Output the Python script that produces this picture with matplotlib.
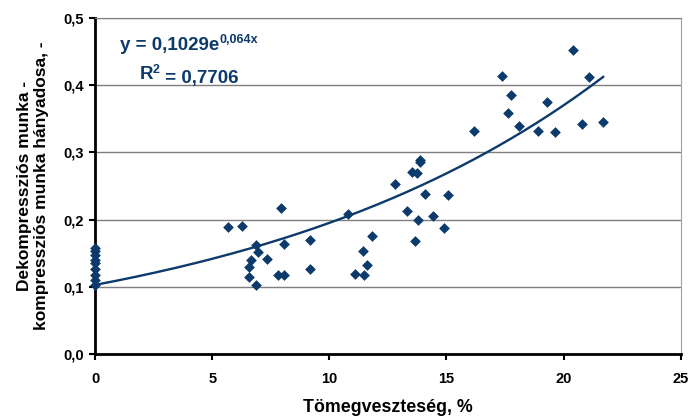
import matplotlib
matplotlib.use("Agg")
import matplotlib.pyplot as plt
from matplotlib.ticker import FuncFormatter
import numpy as np

# measured points: weight loss (%) vs. decompression/compression work ratio
mass_loss = [0, 0, 0, 0, 0, 0, 0, 0, 0,
             5.69, 6.28, 7.93, 6.85, 6.97, 6.66, 6.58, 6.57, 6.85, 7.32,
             7.79, 8.08, 8.08, 9.16, 9.16, 10.78, 11.09, 11.48, 11.45, 11.62,
             11.80, 13.85, 13.85, 13.52, 13.75, 12.80, 14.08, 15.07, 13.32, 13.79,
             14.43, 14.90, 13.65, 16.18, 17.39, 17.77, 17.63, 18.10, 19.27, 18.89,
             19.62, 20.38, 21.09, 20.80, 21.69]
work_ratio = [0.158, 0.153, 0.147, 0.140, 0.135, 0.127, 0.118, 0.110, 0.103,
              0.189, 0.191, 0.218, 0.162, 0.152, 0.140, 0.130, 0.114, 0.102, 0.141,
              0.118, 0.118, 0.163, 0.169, 0.126, 0.208, 0.119, 0.118, 0.153, 0.132,
              0.176, 0.289, 0.285, 0.271, 0.269, 0.253, 0.238, 0.236, 0.213, 0.199,
              0.205, 0.188, 0.168, 0.332, 0.414, 0.386, 0.359, 0.339, 0.375, 0.332,
              0.331, 0.452, 0.412, 0.342, 0.345]

# exponential trendline as printed on the chart
fit_a = 0.1029
fit_b = 0.064
fit_r2 = 0.7706

navy = "#0b3a6b"
plt.rcParams["font.family"] = ["Liberation Sans", "DejaVu Sans"]

fig = plt.figure(figsize=(6.89, 4.18), dpi=100)
ax = fig.add_axes([0.138, 0.153, 0.850, 0.804])

xs = np.linspace(0, max(mass_loss), 200)
ax.plot(xs, fit_a * np.exp(fit_b * xs), color=navy, lw=1.7, zorder=3, clip_on=False)
ax.scatter(mass_loss, work_ratio, marker="D", s=30, color=navy, zorder=4,
           linewidths=0, clip_on=False)

ax.set_xlim(0, 25)
ax.set_ylim(0, 0.5)
ax.set_xticks(range(0, 26, 5))
ax.set_yticks([0, 0.1, 0.2, 0.3, 0.4, 0.5])
ax.yaxis.set_major_formatter(FuncFormatter(lambda v, p: f"{v:.1f}".replace(".", ",")))
ax.grid(axis="y", color="#7f7f7f", lw=1)
ax.set_axisbelow(True)

for side in ["left", "bottom"]:
    ax.spines[side].set_linewidth(2)
    ax.spines[side].set_color("black")
ax.spines["top"].set_color("#7f7f7f")
ax.spines["right"].set_color("#a0a0a0")
ax.tick_params(axis="both", direction="out", length=4, width=1.5, labelsize=10.5)
ax.tick_params(axis="y", pad=4)
ax.tick_params(axis="x", pad=9)
for lab in ax.get_xticklabels() + ax.get_yticklabels():
    lab.set_fontweight("bold")

ax.set_xlabel("Tömegveszteség, %", fontsize=12.8, fontweight="bold", labelpad=9)
ax.set_ylabel("Dekompressziós munka -\nkompressziós munka hányadosa, -",
              fontsize=12.5, fontweight="bold", labelpad=10)

eq = ax.text(0.043, 0.905, "y = " + f"{fit_a}".replace(".", ",") + "e",
             transform=ax.transAxes, fontsize=13.5, fontweight="bold", color=navy,
             va="baseline")
ax.annotate(f"{fit_b}".replace(".", ",") + "x", xy=(1, 0.62), xycoords=eq,
            fontsize=9, fontweight="bold", color=navy, va="baseline")
r2 = ax.text(0.076, 0.818, "R", transform=ax.transAxes, fontsize=13.5,
             fontweight="bold", color=navy, va="baseline")
ax.annotate("2", xy=(1, 0.62), xycoords=r2, fontsize=9, fontweight="bold",
            color=navy, va="baseline")
ax.annotate(" = " + f"{fit_r2}".replace(".", ","), xy=(1.0, 0), xycoords=r2,
            xytext=(5, 0), textcoords="offset points",
            fontsize=13.5, fontweight="bold", color=navy, va="baseline")

fig.savefig("out.png", dpi=100)
